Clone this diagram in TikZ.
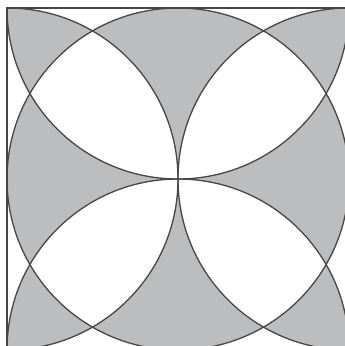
\documentclass[tikz,border=0pt]{standalone}
\begin{document}
\begin{tikzpicture}[x=1pt,y=-1pt,
  arcline/.style={draw=inkc, line width=1.3pt},
  edgeline/.style={draw=inkc, line width=1.6pt}]
\definecolor{greyfill}{RGB}{187,189,191}
\definecolor{inkc}{RGB}{70,70,70}
\useasboundingbox (0,0) rectangle (345,346);
\clip (0,0) rectangle (345,346);
\fill[white] (0,0) rectangle (345,346);
\coordinate (O) at (178,179);
\coordinate (T) at (178,8);
\coordinate (B) at (178,350);
\coordinate (L) at (7,179);
\coordinate (R) at (349,179);
\coordinate (TL) at (7,8);
\coordinate (BR) at (349,350);
\fill[fill=greyfill] (TL) rectangle (BR);
\begin{scope}
  \clip (TL) rectangle (BR);
  \fill[white, even odd rule]
    (O) circle[radius=171pt] (T) circle[radius=171pt]
    (B) circle[radius=171pt] (L) circle[radius=171pt]
    (R) circle[radius=171pt];
  \path[arcline] (O) circle[radius=171pt];
  \path[arcline] (T) circle[radius=171pt];
  \path[arcline] (B) circle[radius=171pt];
  \path[arcline] (L) circle[radius=171pt];
  \path[arcline] (R) circle[radius=171pt];
\end{scope}
\path[edgeline] (TL) rectangle (BR);
\end{tikzpicture}
\end{document}
